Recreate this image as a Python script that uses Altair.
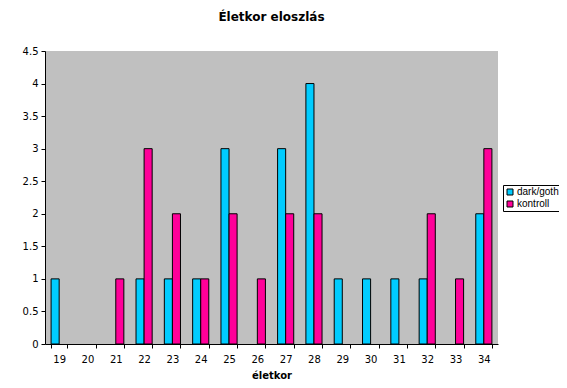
import altair as alt
import pandas as pd

ages = [str(a) for a in range(19, 35)]
dark_goth = [1, 0, 0, 1, 1, 1, 3, 0, 3, 4, 1, 1, 1, 1, 0, 2]
kontroll = [0, 0, 1, 3, 2, 1, 2, 1, 2, 2, 0, 0, 0, 2, 1, 3]
series = ["dark/goth", "kontroll"]
colors = ["#00CCFF", "#FF0099"]

rows = []
for i, a in enumerate(ages):
    rows.append({"életkor": a, "sorozat": series[0], "érték": dark_goth[i]})
    rows.append({"életkor": a, "sorozat": series[1], "érték": kontroll[i]})
df = pd.DataFrame(rows)

font = "DejaVu Sans"

chart = alt.Chart(df).transform_filter(
    alt.datum["érték"] > 0
).mark_bar(stroke="black", strokeWidth=1).encode(
    x=alt.X("életkor:N", sort=ages,
            scale=alt.Scale(domain=ages, paddingInner=0.43, paddingOuter=0.215),
            axis=alt.Axis(title="életkor", labelAngle=0, tickBand="extent",
                          domainColor="black", tickColor="black", tickSize=4,
                          labelFont=font, labelFontSize=10, labelColor="black",
                          labelPadding=6,
                          titleFont=font, titleFontSize=10, titleFontWeight="bold",
                          titleColor="black", titlePadding=6)),
    xOffset=alt.XOffset("sorozat:N", sort=series,
                        scale=alt.Scale(domain=series, paddingInner=0, paddingOuter=0)),
    y=alt.Y("érték:Q",
            scale=alt.Scale(domain=[0, 4.5], nice=False),
            axis=alt.Axis(title=None, values=[0, 0.5, 1, 1.5, 2, 2.5, 3, 3.5, 4, 4.5],
                          format="~g",
                          grid=False, domainColor="black", tickColor="black",
                          tickSize=4, labelFont=font, labelFontSize=10,
                          labelColor="black", labelPadding=3)),
    color=alt.Color("sorozat:N", sort=series,
                    scale=alt.Scale(domain=series, range=colors),
                    legend=alt.Legend(title=None, orient="none", legendX=458, legendY=134,
                                      strokeColor="black", fillColor="white",
                                      padding=2, symbolType="square", symbolSize=36,
                                      symbolStrokeColor="black", symbolStrokeWidth=1,
                                      labelFont="Liberation Sans", labelFontSize=10,
                                      labelColor="black", rowPadding=2,
                                      symbolOffset=0, labelOffset=2)),
).properties(
    width=453,
    height=293,
    title=alt.TitleParams("Életkor eloszlás", font=font, fontSize=12,
                          fontWeight="bold", color="black", anchor="middle",
                          offset=22),
    autosize=alt.AutoSizeParams(type="none"),
    padding={"left": 37, "top": 43, "right": 61, "bottom": 36},
).configure_view(
    fill="#C0C0C0", stroke=None
)

chart.save("out.html", embed_options={"renderer": "svg", "actions": False})
